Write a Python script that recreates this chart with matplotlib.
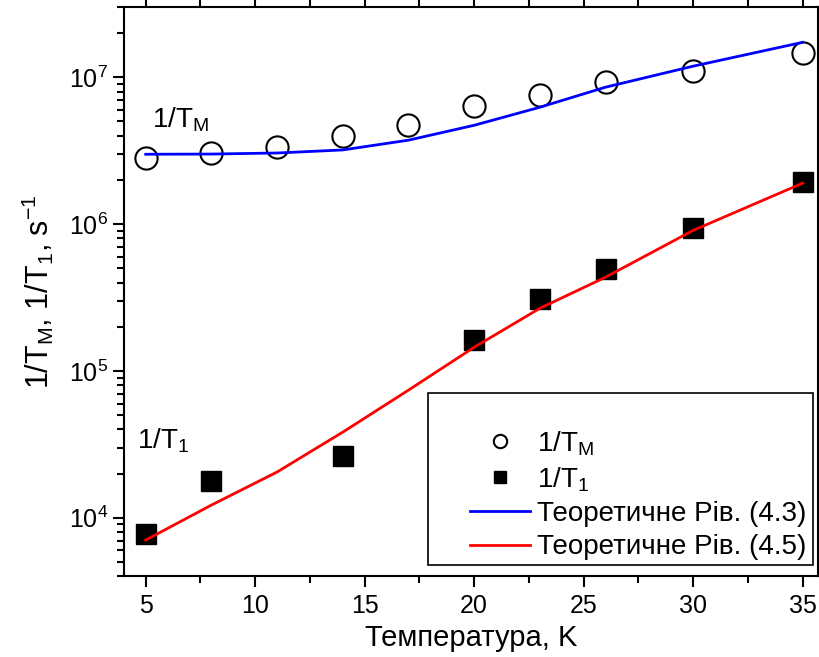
import matplotlib
matplotlib.use('Agg')
import matplotlib.pyplot as plt
from matplotlib.patches import Rectangle
from matplotlib.ticker import MultipleLocator, LogLocator, NullFormatter

plt.rcParams['font.family'] = ['Liberation Sans', 'DejaVu Sans']
plt.rcParams['mathtext.fontset'] = 'custom'
plt.rcParams['mathtext.rm'] = 'Liberation Sans'

# experimental points
temp_m = [5, 8, 11, 14, 17, 20, 23, 26, 30, 35]
rate_m = [2.81e6, 3.04e6, 3.34e6, 3.97e6, 4.71e6, 6.35e6, 7.55e6, 9.25e6, 1.10e7, 1.46e7]

temp_1 = [5, 8, 14, 20, 23, 26, 30, 35]
rate_1 = [7.74e3, 1.78e4, 2.63e4, 1.62e5, 3.07e5, 4.91e5, 9.46e5, 1.93e6]

# theory curves
temp_th = [5, 8, 11, 14, 17, 20, 23, 26, 30, 35]
theory_m = [2.99e6, 3.0e6, 3.05e6, 3.2e6, 3.73e6, 4.71e6, 6.25e6, 8.56e6, 1.19e7, 1.73e7]
theory_1 = [7.05e3, 1.22e4, 2.05e4, 3.83e4, 7.4e4, 1.45e5, 2.67e5, 4.35e5, 9.06e5, 1.90e6]

fig = plt.figure(figsize=(8.2, 6.57), dpi=100)
ax = fig.add_axes([0.151, 0.123, 0.847, 0.866])

ax.plot(temp_m, rate_m, 'o', mfc='white', mec='black', mew=1.5, ms=16, label=r'1/T$_\mathregular{M}$', zorder=2)
ax.plot(temp_1, rate_1, 's', color='black', ms=14, label=r'1/T$_\mathregular{1}$', zorder=2)
ax.plot(temp_th, theory_m, color='#0000ff', lw=2, label='Теоретичне Рів. (4.3)', zorder=3)
ax.plot(temp_th, theory_1, color='#ff0000', lw=2, label='Теоретичне Рів. (4.5)', zorder=3)

ax.set_yscale('log')
ax.set_xlim(4.0, 35.72)
ax.set_ylim(4e3, 3e7)

ax.xaxis.set_major_locator(MultipleLocator(5))
ax.xaxis.set_minor_locator(MultipleLocator(2.5))
ax.yaxis.set_major_locator(LogLocator(base=10))
ax.yaxis.set_minor_locator(LogLocator(base=10, subs=range(2, 10)))
ax.yaxis.set_minor_formatter(NullFormatter())

ax.tick_params(which='major', direction='out', length=8, width=1.5, labelsize=18, top=True, right=True)
ax.tick_params(axis='x', which='major', pad=5)
ax.tick_params(which='minor', direction='out', length=5, width=1.5, top=True, right=True)
for s in ax.spines.values():
    s.set_linewidth(1.5)

ax.set_xlabel('Температура, K', fontsize=21, labelpad=4)
ax.set_ylabel(r'1/T$_\mathregular{M}$, 1/T$_\mathregular{1}$, s$^\mathregular{-1}$', fontsize=22, labelpad=9)

ax.text(5.27, 4.6e6, r'1/T$_\mathregular{M}$', fontsize=20)
ax.text(4.6, 3.0e4, r'1/T$_\mathregular{1}$', fontsize=20)

# legend box (fixed size, content sits to the right)
ax.add_patch(Rectangle((0.438, 0.0193), 0.5548, 0.302, transform=ax.transAxes,
                       fill=True, facecolor='white', edgecolor='black', lw=1.2, zorder=4))
leg = ax.legend(loc='lower right', bbox_to_anchor=(0.9827, 0.028), fontsize=20, markerscale=0.6,
                frameon=False, borderpad=0, borderaxespad=0, labelspacing=0.26,
                handlelength=2.16, handletextpad=0.25)
leg.set_zorder(5)

fig.savefig('out.png', dpi=100)
